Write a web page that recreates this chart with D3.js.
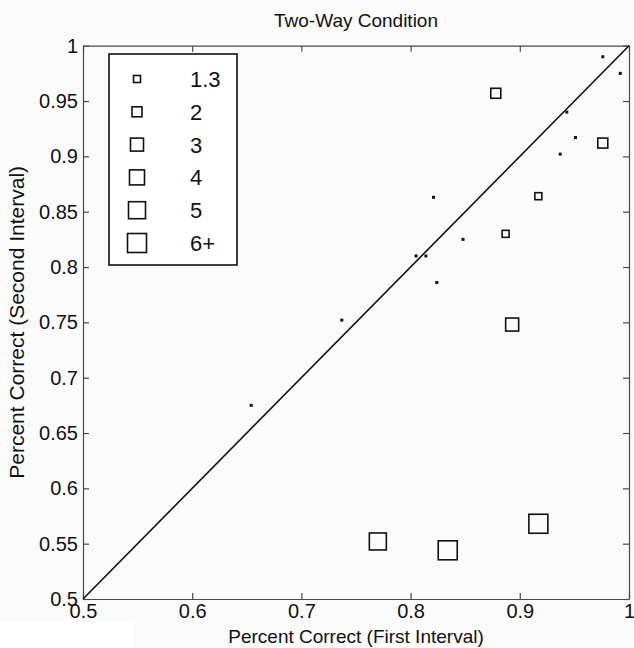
<!DOCTYPE html>
<html>
<head>
<meta charset="utf-8">
<script src="https://cdn.jsdelivr.net/npm/d3@7"></script>
<style>
  body { margin: 0; background: #fbfbfb; }
  svg { display: block; font-family: "Liberation Sans", Arial, sans-serif; }
</style>
</head>
<body>
<svg width="634" height="648"></svg>
<script>
// data
let firstInterval  = [0.654, 0.737, 0.805, 0.814, 0.821, 0.848, 0.824, 0.937, 0.943, 0.951, 0.976, 0.992,
                      0.878, 0.976, 0.917, 0.887, 0.893, 0.770, 0.834, 0.917]
let secondInterval = [0.675, 0.752, 0.810, 0.810, 0.863, 0.825, 0.786, 0.902, 0.940, 0.917, 0.990, 0.975,
                      0.957, 0.912, 0.864, 0.830, 0.748, 0.552, 0.544, 0.568]
let sizeClass      = ["1", "1", "1", "1", "1", "1", "1", "1", "1", "1", "1", "1",
                      "2", "2", "1.3", "1.3", "3", "5", "6+", "6+"]

let legendLabels = ["1.3", "2", "3", "4", "5", "6+"]
let xTicks = [0.5, 0.6, 0.7, 0.8, 0.9, 1]
let yTicks = [0.5, 0.55, 0.6, 0.65, 0.7, 0.75, 0.8, 0.85, 0.9, 0.95, 1]

let svg = d3.select("svg")

svg.append("rect")
  .attr("x", 0).attr("y", 622)
  .attr("width", 133).attr("height", 26)
  .style("fill", "#ffffff")

let plotLeft = 83, plotRight = 629, plotTop = 45.7, plotBottom = 599

let x = d3.scaleLinear().domain([0.5, 1]).range([plotLeft, plotRight])
let y = d3.scaleLinear().domain([0.5, 1]).range([plotBottom, plotTop])

// marker side in px for each size class
let side = d3.scaleOrdinal()
  .domain(["1", "1.3", "2", "3", "4", "5", "6+"])
  .range([3, 7, 10, 13, 15, 17, 19])

let fmt = d => String(+d.toFixed(2))
let axisColor = "#4a4a4a"

svg.append("g")
  .attr("transform", `translate(0,${plotBottom})`)
  .call(d3.axisBottom(x).tickValues(xTicks).tickFormat(fmt).tickSizeInner(-6).tickSizeOuter(0).tickPadding(5))
svg.append("g")
  .attr("transform", `translate(${plotLeft},0)`)
  .call(d3.axisLeft(y).tickValues(yTicks).tickFormat(fmt).tickSizeInner(-6).tickSizeOuter(0).tickPadding(5))
svg.append("g")
  .attr("transform", `translate(0,${plotTop})`)
  .call(d3.axisTop(x).tickValues(xTicks).tickFormat("").tickSizeInner(-6).tickSizeOuter(0))
svg.append("g")
  .attr("transform", `translate(${plotRight},0)`)
  .call(d3.axisRight(y).tickValues(yTicks).tickFormat("").tickSizeInner(-6).tickSizeOuter(0))

svg.selectAll(".domain, .tick line")
  .style("stroke", axisColor)
  .style("stroke-width", 1.2)
svg.selectAll(".tick text")
  .style("font-size", "20px")
  .style("fill", "#111")

// diagonal
svg.append("line")
  .attr("x1", x(0.5)).attr("y1", y(0.5))
  .attr("x2", x(1)).attr("y2", y(1))
  .style("stroke", "#111")
  .style("stroke-width", 1.6)

let points = firstInterval.map((v, i) => ({ fx: v, sy: secondInterval[i], c: sizeClass[i] }))

svg.selectAll(".dot")
  .data(points.filter(p => p.c === "1"))
  .enter()
  .append("rect")
  .attr("x", p => x(p.fx) - side(p.c) / 2)
  .attr("y", p => y(p.sy) - side(p.c) / 2)
  .attr("width", p => side(p.c))
  .attr("height", p => side(p.c))
  .style("fill", "#111")

svg.selectAll(".sq")
  .data(points.filter(p => p.c !== "1"))
  .enter()
  .append("rect")
  .attr("x", p => x(p.fx) - side(p.c) / 2)
  .attr("y", p => y(p.sy) - side(p.c) / 2)
  .attr("width", p => side(p.c))
  .attr("height", p => side(p.c))
  .style("fill", "none")
  .style("stroke", "#111")
  .style("stroke-width", 1.6)

// legend
let legend = svg.append("g")
legend.append("rect")
  .attr("x", 109).attr("y", 54)
  .attr("width", 128).attr("height", 211)
  .style("fill", "#fff")
  .style("stroke", "#111")
  .style("stroke-width", 1.6)

let row = d3.scalePoint().domain(legendLabels).range([79, 243])

legendLabels.forEach(lab => {
  let s = side(lab)
  legend.append("rect")
    .attr("x", 137 - s / 2).attr("y", row(lab) - s / 2)
    .attr("width", s).attr("height", s)
    .style("fill", "none")
    .style("stroke", "#111")
    .style("stroke-width", 1.6)
  legend.append("text")
    .attr("x", 190).attr("y", row(lab))
    .attr("dy", "0.36em")
    .style("font-size", "22px")
    .style("fill", "#111")
    .text(lab)
})

svg.append("text")
  .attr("x", (plotLeft + plotRight) / 2).attr("y", 27)
  .attr("text-anchor", "middle")
  .style("font-size", "19px")
  .style("fill", "#111")
  .text("Two-Way Condition")

svg.append("text")
  .attr("x", (plotLeft + plotRight) / 2).attr("y", 643)
  .attr("text-anchor", "middle")
  .style("font-size", "19px")
  .style("fill", "#111")
  .text("Percent Correct (First Interval)")

svg.append("text")
  .attr("transform", `translate(24,${(plotTop + plotBottom) / 2}) rotate(-90)`)
  .attr("text-anchor", "middle")
  .style("font-size", "21px")
  .style("fill", "#111")
  .text("Percent Correct (Second Interval)")
</script>
</body>
</html>
